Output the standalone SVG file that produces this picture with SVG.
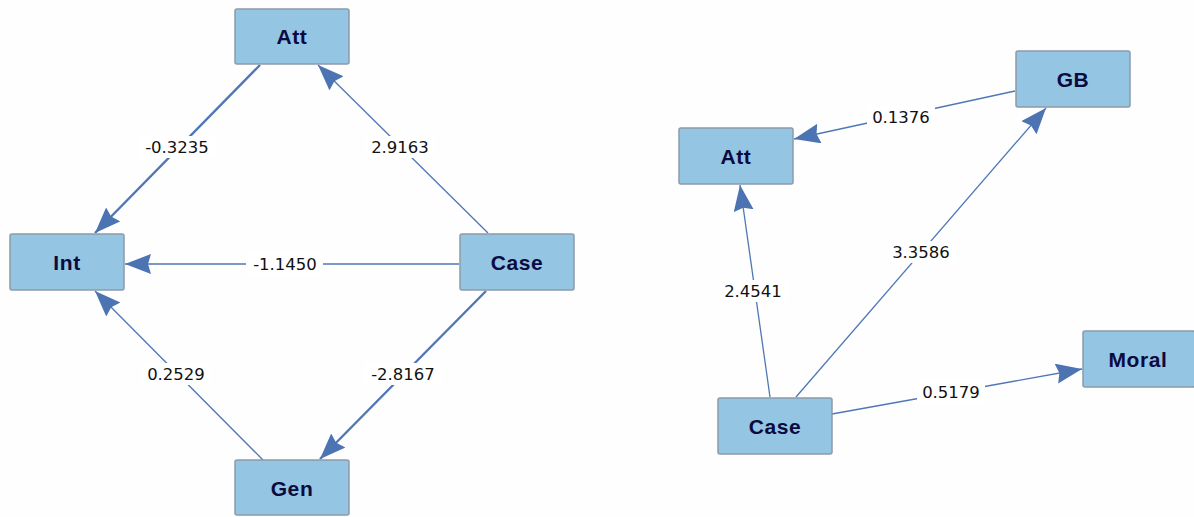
<svg xmlns="http://www.w3.org/2000/svg" width="1194" height="517" viewBox="0 0 1194 517">
<style>
.node rect{fill:#94c5e2;stroke:#8c9bab;stroke-width:1.5}
.node text{font-family:"Liberation Sans",Arial,sans-serif;font-weight:bold;font-size:21px;fill:#0b0b3f;text-anchor:middle;letter-spacing:0.6px}
.edge{stroke:#4f77b6;fill:none;marker-end:url(#ah)}
.thin{stroke-width:1.3}
.thick{stroke-width:2.4}
.lbl rect{fill:#ffffff}
.lbl text{font-family:"DejaVu Sans",Verdana,sans-serif;font-size:16.5px;fill:#111111;text-anchor:middle}
</style>
<defs>
<marker id="ah" markerUnits="userSpaceOnUse" markerWidth="28" markerHeight="22" refX="26" refY="10" orient="auto">
<path d="M0,0 L26,10 L0,20 L3,10 Z" fill="#4c74b3"/>
</marker>
</defs>
<rect width="1194" height="517" fill="#fefefe"/>
<g id="connectors">
<line class="edge thick" x1="260" y1="65" x2="95" y2="233"/>
<line class="edge thin" x1="488" y1="233" x2="318" y2="65"/>
<line class="edge thin" x1="459" y1="264" x2="125" y2="264"/>
<line class="edge thin" x1="263" y1="460" x2="95" y2="291"/>
<line class="edge thick" x1="486" y1="291" x2="320" y2="459"/>
<line class="edge thin" x1="1015" y1="91" x2="794" y2="139"/>
<line class="edge thin" x1="770" y1="397" x2="740" y2="185"/>
<line class="edge thin" x1="796" y1="397" x2="1046" y2="108"/>
<line class="edge thin" x1="832" y1="414" x2="1082" y2="369"/>
<g class="lbl">
<rect x="139" y="136" width="77" height="22"/><text x="177" y="153">-0.3235</text>
<rect x="366" y="136" width="68" height="22"/><text x="400" y="153">2.9163</text>
<rect x="246" y="253" width="77" height="22"/><text x="285" y="270">-1.1450</text>
<rect x="142" y="363" width="68" height="22"/><text x="176" y="380">0.2529</text>
<rect x="365" y="363" width="77" height="22"/><text x="403" y="380">-2.8167</text>
<rect x="867" y="106" width="68" height="22"/><text x="901" y="123">0.1376</text>
<rect x="887" y="241" width="68" height="22"/><text x="921" y="258">3.3586</text>
<rect x="719" y="280" width="68" height="22"/><text x="753" y="297">2.4541</text>
<rect x="917" y="381" width="68" height="22"/><text x="951" y="398">0.5179</text>
</g>
</g>
<g id="node-att-left" class="node"><rect x="235" y="9" width="114" height="55" rx="2"/><text x="292" y="44">Att</text></g>
<g id="node-int" class="node"><rect x="10" y="234" width="114" height="56" rx="2"/><text x="67" y="270">Int</text></g>
<g id="node-case-left" class="node"><rect x="460" y="234" width="114" height="56" rx="2"/><text x="517" y="270">Case</text></g>
<g id="node-gen" class="node"><rect x="235" y="460" width="114" height="55" rx="2"/><text x="292" y="496">Gen</text></g>
<g id="node-att-right" class="node"><rect x="679" y="128" width="114" height="56" rx="2"/><text x="736" y="164">Att</text></g>
<g id="node-gb" class="node"><rect x="1016" y="51" width="114" height="56" rx="2"/><text x="1073" y="87">GB</text></g>
<g id="node-case-right" class="node"><rect x="718" y="398" width="114" height="56" rx="2"/><text x="775" y="434">Case</text></g>
<g id="node-moral" class="node"><rect x="1083" y="331" width="112" height="56" rx="2"/><text x="1138" y="367">Moral</text></g>
</svg>
